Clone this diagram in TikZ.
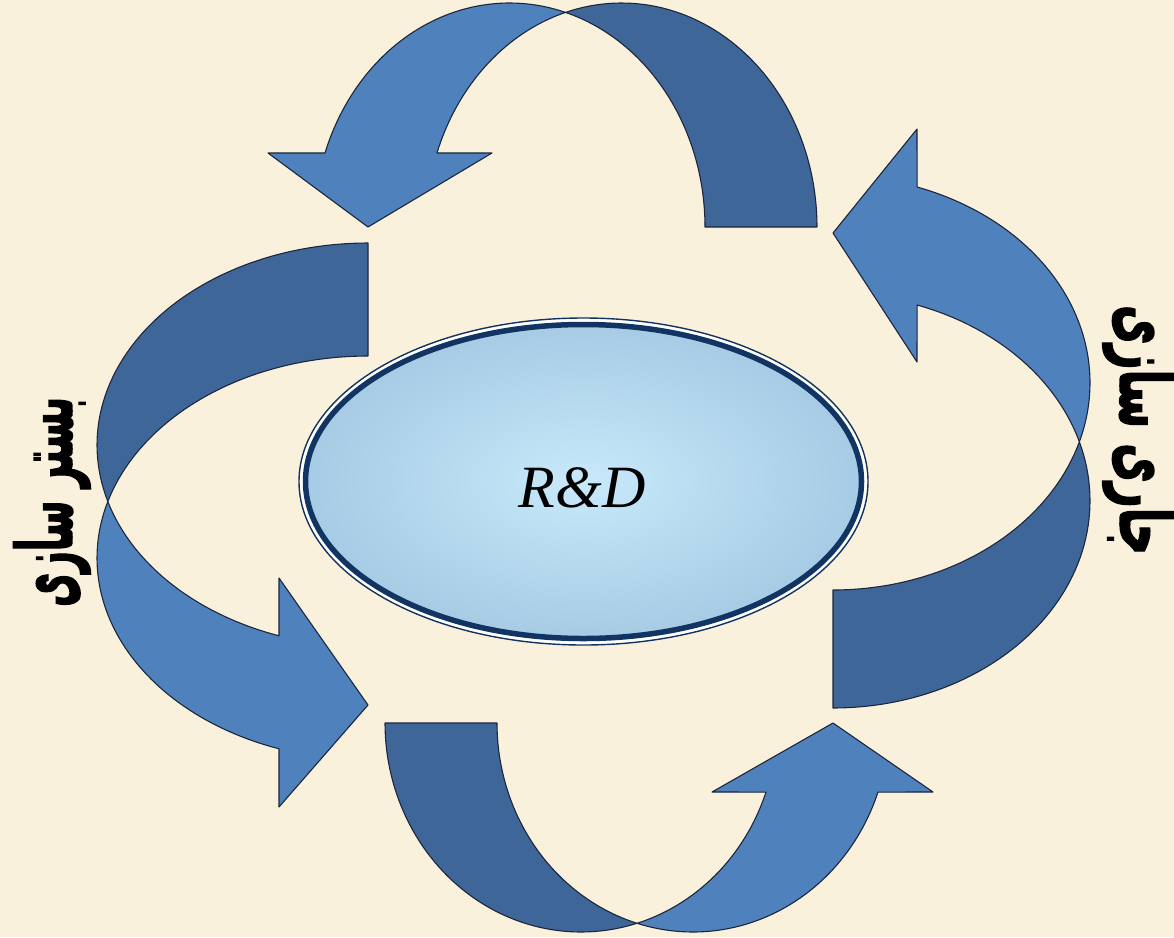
\documentclass[tikz,border=0pt]{standalone}
\usepackage{fontspec}
\usepackage{graphicx}
\setmainfont{Liberation Serif}
\newfontfamily\arabicfont[Script=Arabic, FakeBold=2.5]{DejaVu Sans Bold}
\TeXXeTstate=1
\usetikzlibrary{shapes.geometric}
\definecolor{bg}{RGB}{250,241,220}
\definecolor{alight}{RGB}{79,129,189}
\definecolor{adark}{RGB}{63,102,153}
\definecolor{aline}{RGB}{28,38,60}
\definecolor{navy}{RGB}{18,52,98}
\definecolor{ecenter}{RGB}{200,233,250}
\definecolor{eedge}{RGB}{166,203,228}
\tikzset{
  lightband/.style={fill=alight, draw=aline, line width=1.1pt, line join=round},
  darkband/.style={fill=adark, draw=aline, line width=1.1pt, line join=round},
  persian/.style={font=\arabicfont\fontsize{40}{46}\selectfont, inner sep=0pt},
}
\begin{document}
\begin{tikzpicture}[x=1pt,y=-1pt]
\fill[bg] (0,0) rectangle (1174,937);
\useasboundingbox (0,0) rectangle (1174,937);

% ---- top arrow ----
\filldraw[darkband] plot[domain=73.35:0, samples=60] ({509.5+195.5*cos(\x)},{227-224*sin(\x)})
  -- (817,227)
  -- plot[domain=0:106.65, samples=60] ({621.5+195.5*cos(\x)},{227-224*sin(\x)}) -- cycle;
\filldraw[lightband] plot[domain=160.7:106.65, samples=60] ({621.5+195.5*cos(\x)},{227-224*sin(\x)})
  -- plot[domain=73.35:160.7, samples=60] ({509.5+195.5*cos(\x)},{227-224*sin(\x)})
  -- (268,153) -- (368,227) -- (492,153) -- cycle;

% ---- right arrow ----
\filldraw[darkband] plot[domain=-16.54:-90, samples=60] ({833+257*cos(\x)},{382.8-207.2*sin(\x)})
  -- plot[domain=-90:16.54, samples=60] ({833+257*cos(\x)},{500.8-207.2*sin(\x)}) -- cycle;
\filldraw[lightband] plot[domain=70.9:-16.54, samples=60] ({833+257*cos(\x)},{382.8-207.2*sin(\x)})
  -- plot[domain=16.54:70.9, samples=60] ({833+257*cos(\x)},{500.8-207.2*sin(\x)})
  -- (917,362) -- (833,233) -- (917,129) -- cycle;

% ---- bottom arrow ----
\filldraw[darkband] plot[domain=180:286.6, samples=60] ({581+196*cos(\x)},{723-209*sin(\x)})
  -- plot[domain=253.4:180, samples=60] ({693+196*cos(\x)},{723-209*sin(\x)}) -- cycle;
\filldraw[lightband] plot[domain=286.6:340.7, samples=60] ({581+196*cos(\x)},{723-209*sin(\x)})
  -- (712,792) -- (833,723) -- (933,792)
  -- plot[domain=340.7:253.4, samples=60] ({693+196*cos(\x)},{723-209*sin(\x)}) -- cycle;

% ---- left arrow ----
\filldraw[darkband] plot[domain=90:196.24, samples=60] ({368+271*cos(\x)},{445-202*sin(\x)})
  -- plot[domain=163.76:90, samples=60] ({368+271*cos(\x)},{558-202*sin(\x)}) -- cycle;
\filldraw[lightband] plot[domain=196.24:250.83, samples=60] ({368+271*cos(\x)},{445-202*sin(\x)})
  -- (279,578) -- (368,705) -- (279,807)
  -- plot[domain=250.83:163.76, samples=60] ({368+271*cos(\x)},{558-202*sin(\x)}) -- cycle;

% ---- central ellipse ----
\node[ellipse, draw=navy, line width=1.4pt, fill=white, minimum width=569pt, minimum height=327pt, inner sep=0pt] (rdouter) at (583.5,481.5) {};
\node[ellipse, draw=navy, line width=5.5pt, shading=radial, inner color=ecenter, outer color=eedge, minimum width=556pt, minimum height=314pt, inner sep=0pt] (rd) at (583.5,481.5) {};
\node[font=\itshape\fontsize{60}{70}\selectfont, inner sep=0pt] (rdlabel) at (582,488) {R\&D};

% ---- labels ----
\node[persian, rotate=90] (bestar) at (52,502) {\resizebox{210pt}{58pt}{\beginR بستر سازی\endR}};
\node[persian, rotate=-90] (jari) at (1139,430) {\resizebox{250pt}{55pt}{\beginR جاری سازی\endR}};
\end{tikzpicture}
\end{document}
